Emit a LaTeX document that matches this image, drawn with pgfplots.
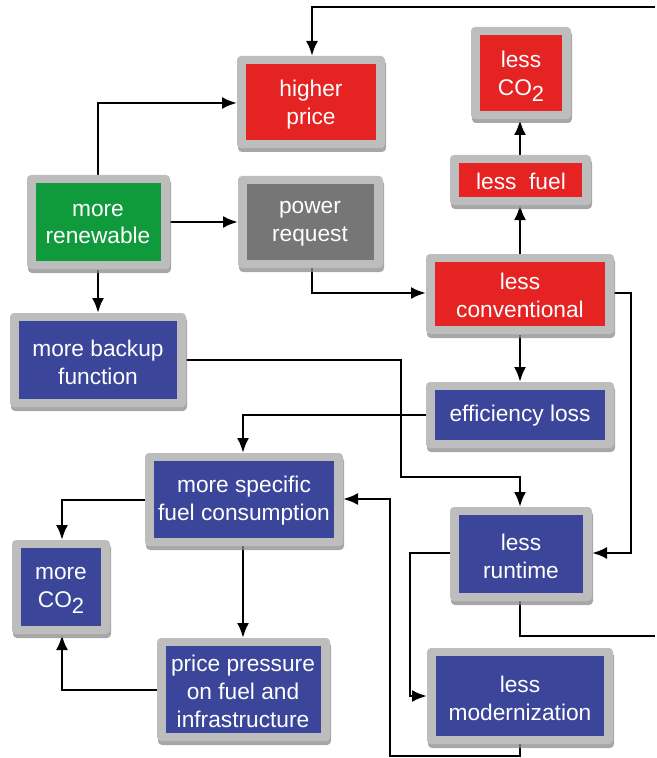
\documentclass[border=0pt]{standalone}
\usepackage{pgfplots}
\pgfplotsset{compat=1.18}
\usepackage{fontspec}
\setmainfont{Liberation Sans}
\usetikzlibrary{arrows.meta}
\definecolor{framec}{HTML}{BDBDBD}
\definecolor{shadowc}{HTML}{8A8A8A}
\definecolor{fred}{HTML}{E42322}
\definecolor{fblue}{HTML}{3B469A}
\definecolor{fgreen}{HTML}{0F9A3B}
\definecolor{fgray}{HTML}{767676}
\tikzset{
  flow/.style={black, line width=2.5bp, -{Latex[length=15bp,width=12bp]}, mark=none},
  flowplain/.style={black, line width=2.5bp, mark=none},
  lbl/.style={text=white, align=center, inner sep=0pt, font=\fontsize{22.8}{28}\selectfont},
}
\newcommand{\COtwo}{CO\raisebox{-0.5ex}{\fontsize{22}{22}\selectfont 2}}
% #1 x1, #2 y1, #3 x2, #4 y2 (outer frame, pixel units), #5 fill colour
\newcommand{\flowbox}[5]{%
  \edef\tmpbox{%
    \noexpand\addplot[fill=shadowc, draw=none, rounded corners=4bp, opacity=0.75] coordinates {(\the\numexpr#1+1\relax,\the\numexpr#2+4\relax) (\the\numexpr#3+1\relax,\the\numexpr#2+4\relax) (\the\numexpr#3+1\relax,\the\numexpr#4+4\relax) (\the\numexpr#1+1\relax,\the\numexpr#4+4\relax)} -- cycle;
    \noexpand\addplot[fill=framec, draw=none, rounded corners=4bp] coordinates {(#1,#2) (#3,#2) (#3,#4) (#1,#4)} -- cycle;
    \noexpand\addplot[fill=#5, draw=none] coordinates {(\the\numexpr#1+9\relax,\the\numexpr#2+8\relax) (\the\numexpr#3-9\relax,\the\numexpr#2+8\relax) (\the\numexpr#3-9\relax,\the\numexpr#4-8\relax) (\the\numexpr#1+9\relax,\the\numexpr#4-8\relax)} -- cycle;
  }\tmpbox
}
\begin{document}
\begin{tikzpicture}
\begin{axis}[
  scale only axis, width=655bp, height=758bp,
  xmin=0, xmax=655, ymin=0, ymax=758, y dir=reverse,
  hide axis, clip=false,
]
\addplot[draw=none, mark=none] coordinates {(0,0) (655,758)};
% connectors
\addplot[flow] coordinates {(655,7) (312,7) (312,56)};
\addplot[flow] coordinates {(98,176) (98,103) (237,103)};
\addplot[flow] coordinates {(170,222) (238,222)};
\addplot[flow] coordinates {(98,270) (98,313)};
\addplot[flow] coordinates {(312,266) (312,293) (426,293)};
\addplot[flow] coordinates {(520,254) (520,205)};
\addplot[flow] coordinates {(520,155) (520,120)};
\addplot[flow] coordinates {(612,293) (631,293) (631,553) (592,553)};
\addplot[flow] coordinates {(520,335) (520,382)};
\addplot[flow] coordinates {(428,415) (243,415) (243,453)};
\addplot[flow] coordinates {(184,360) (401,360) (401,477) (520,477) (520,507)};
\addplot[flow] coordinates {(147,500) (62,500) (62,540)};
\addplot[flow] coordinates {(243,546) (243,638)};
\addplot[flow] coordinates {(159,690) (62,690) (62,635)};
\addplot[flow] coordinates {(452,553) (410,553) (410,696) (427,696)};
\addplot[flowplain] coordinates {(520,600) (520,636) (655,636)};
\addplot[flow] coordinates {(520,743) (520,756) (390,756) (390,499) (343,499)};
% boxes
\flowbox{237}{56}{385}{148}{fred}
\flowbox{471}{27}{571}{119}{fred}
\flowbox{450}{155}{591}{205}{fred}
\flowbox{27}{175}{170}{269}{fgreen}
\flowbox{238}{176}{383}{268}{fgray}
\flowbox{426}{254}{614}{334}{fred}
\flowbox{10}{313}{186}{407}{fblue}
\flowbox{426}{382}{614}{448}{fblue}
\flowbox{145}{453}{343}{546}{fblue}
\flowbox{450}{507}{592}{601}{fblue}
\flowbox{12}{540}{110}{634}{fblue}
\flowbox{157}{638}{330}{741}{fblue}
\flowbox{427}{648}{613}{744}{fblue}
% labels
\node[lbl] at (axis cs:311,105) {higher\\price};
\node[lbl] at (axis cs:521,76) {less\\\COtwo};
\node[lbl] at (axis cs:521,181) {less\ \ fuel};
\node[lbl] at (axis cs:98,224) {more\\renewable};
\node[lbl] at (axis cs:310,224) {power\\request};
\node[lbl] at (axis cs:520,295) {less\\conventional};
\node[lbl] at (axis cs:98,362) {more backup\\function};
\node[lbl] at (axis cs:520,416) {efficiency loss};
\node[lbl] at (axis cs:244,501) {more specific\\fuel consumption};
\node[lbl] at (axis cs:521,556) {less\\runtime};
\node[lbl] at (axis cs:61,590) {more\\\COtwo};
\node[lbl] at (axis cs:243,691) {price pressure\\on fuel and\\infrastructure};
\node[lbl] at (axis cs:520,698) {less\\modernization};
\end{axis}
\end{tikzpicture}
\end{document}
